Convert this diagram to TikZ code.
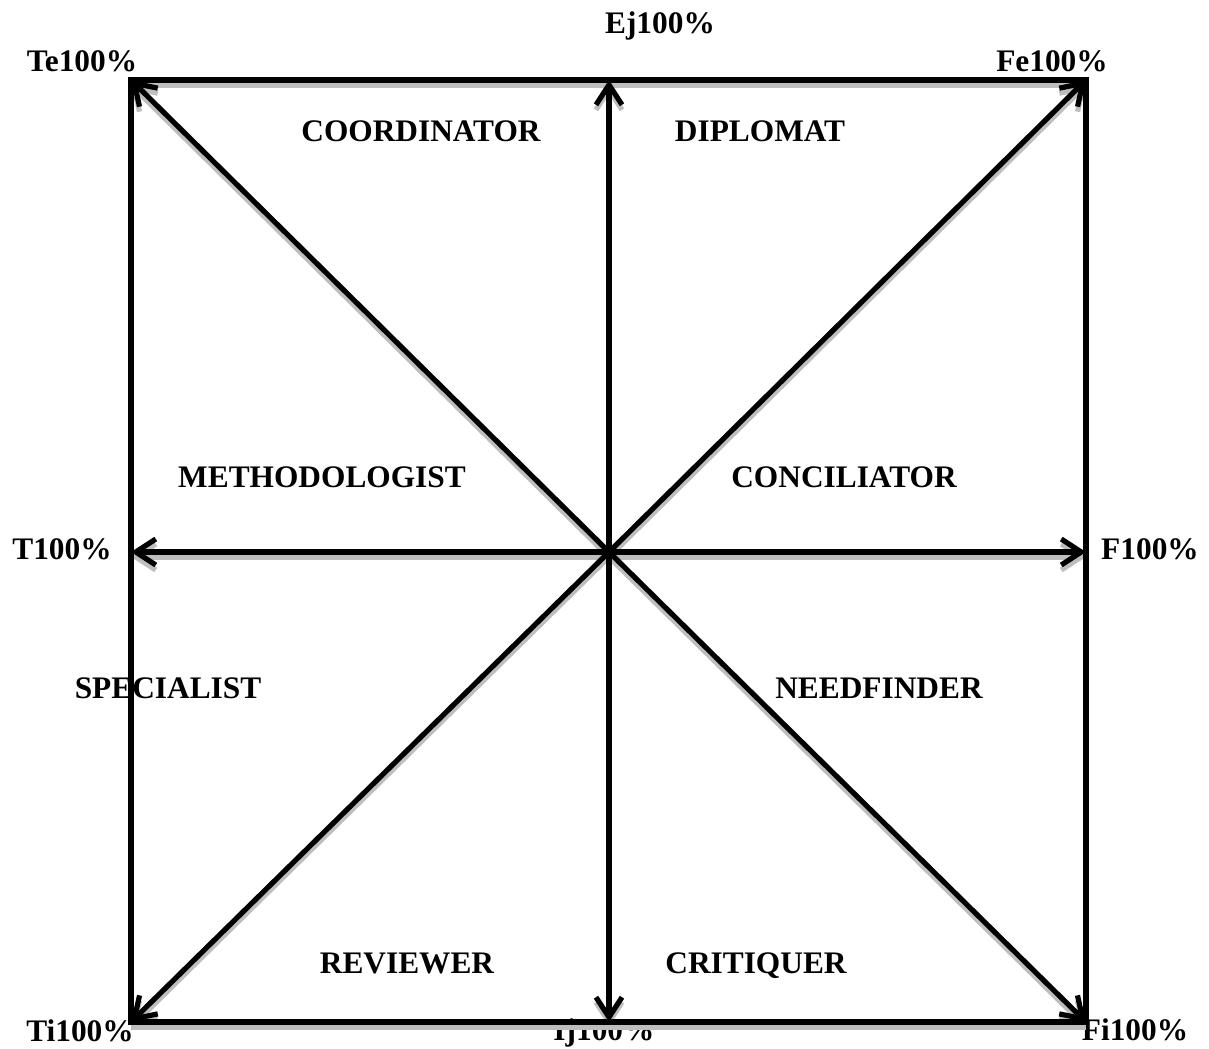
\documentclass[tikz,border=0pt]{standalone}
\usepackage{fontspec}
\setmainfont{Liberation Serif}
\usepackage{tikz}
\usetikzlibrary{arrows.meta}
\definecolor{tmline}{HTML}{000000}
\definecolor{tmshade}{HTML}{BEBEBE}
\tikzset{
  tmrole/.style = {font=\fontsize{22.3}{25}\selectfont\bfseries, inner sep=0pt,
                   anchor=base},
  tmpole/.style = {tmrole},
  tmbox/.style  = {draw=tmline, line width=1.3mm, line join=miter},
  tmarr/.style  = {draw=tmline, line width=1.3mm,
                   -{Straight Barb[length=5mm, width=6.5mm]}},
  tmshd/.style  = {draw=tmshade, line width=1.3mm},
}

\begin{document}
\begin{tikzpicture}[x=0.025cm, y=-0.025cm]
        \useasboundingbox (0,0) rectangle (1209,1048);

        % corners, mid-sides and centre of the grid
        \coordinate (c)  at (609,552);
        \coordinate (te) at (131,80);
        \coordinate (ej) at (609,80);
        \coordinate (fe) at (1086,80);
        \coordinate (t)  at (131,552);
        \coordinate (f)  at (1086,552);
        \coordinate (ti) at (131,1022);
        \coordinate (ij) at (609,1022);
        \coordinate (fi) at (1086,1022);

        % pole labels
        \node[tmpole] (lej) at (660,33)   {Ej100\%};
        \node[tmpole] (lte) at (82,71)    {Te100\%};
        \node[tmpole] (lfe) at (1052,71)  {Fe100\%};
        \node[tmpole] (lt)  at (62,559)   {T100\%};
        \node[tmpole] (lf)  at (1150,559) {F100\%};
        \node[tmpole] (lti) at (80,1041)  {Ti100\%};
        \node[tmpole] (lij) at (604,1040) {Ij100\%};
        \node[tmpole] (lfi) at (1135,1040) {Fi100\%};

        % role labels
        \node[tmrole] (coord) at (421,141) {COORDINATOR};
        \node[tmrole] (dipl)  at (760,141) {DIPLOMAT};
        \node[tmrole] (meth)  at (322,487) {METHODOLOGIST};
        \node[tmrole] (conc)  at (844,487) {CONCILIATOR};
        \node[tmrole] (spec)  at (168,698) {SPECIALIST};
        \node[tmrole] (need)  at (879,698) {NEEDFINDER};
        \node[tmrole] (rev)   at (407,973) {REVIEWER};
        \node[tmrole] (crit)  at (756,973) {CRITIQUER};

        % drop shadow
        \begin{scope}[transform canvas={shift={(0,5)}}]
          \draw[tmshd] (te) -- (fe) (ti) -- (fi);
          \foreach \e in {te,ej,fe,t,f,ti,ij,fi}
            \draw[tmshd, -{Straight Barb[length=5mm, width=6.5mm]}] (c) -- (\e);
        \end{scope}

        \draw[tmbox] (te) rectangle (fi);
        \foreach \e in {te,ej,fe,t,f,ti,ij,fi}
          \draw[tmarr] (c) -- (\e);
    \end{tikzpicture}
\end{document}
